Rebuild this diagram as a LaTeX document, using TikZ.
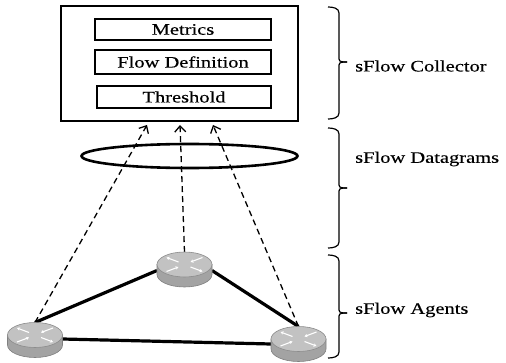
\documentclass[tikz,border=0pt]{standalone}
\usepackage{fontspec}
\setmainfont{Liberation Serif}
\newfontfamily\labfont[FakeBold=0.3]{Liberation Serif}
\newcommand\widetext[1]{\scalebox{1.28}[1]{#1}}
\usetikzlibrary{arrows.meta,shapes.geometric}
\tikzset{
  outerbox/.style={draw=black, line width=2.2pt},
  innerbox/.style={draw=black, line width=2.5pt, minimum width=176pt, inner sep=0pt, font=\labfont\fontsize{16}{18}\selectfont},
  dgram/.style={draw=black, line width=2.6pt},
  flowline/.style={dashed, dash pattern=on 6pt off 4pt, line width=1.3pt, -{Straight Barb[length=6pt,width=11pt,line width=1.3pt]}},
  linkline/.style={line width=3.2pt, black},
  bracepath/.style={line width=1.2pt, black},
  grouplabel/.style={anchor=west, inner sep=0pt, font=\labfont\fontsize{16}{18}\selectfont},
  rside/.style={fill=black!36, draw=black!50, line width=0.6pt},
  rtop/.style={fill=black!24, draw=black!45, line width=0.6pt},
  rarrow/.style={white, line width=1.1pt, -{Stealth[length=3pt,width=3.5pt]}},
}
\newcommand\myrouter[3]{%
  \begin{scope}[shift={(#2,#3)}]
    \path[rside] (-27.5,0) -- (-27.5,-10) arc[start angle=180,end angle=360,x radius=27.5pt,y radius=12.5pt] -- (27.5,0) -- cycle;
    \path[rtop] (0,0) ellipse [x radius=27.5pt, y radius=12.5pt];
    \draw[rarrow] (-6,2.5) -- (-18,7);
    \draw[rarrow] (6,-2.5) -- (18,-7);
    \draw[rarrow] (18,7) -- (6,2.5);
    \draw[rarrow] (-18,-7) -- (-6,-2.5);
  \end{scope}
  \coordinate (#1) at (#2,#3);
}
\begin{document}
\begin{tikzpicture}[x=1pt,y=1pt]
\useasboundingbox (0,0) rectangle (506,362);
% collector
\draw[outerbox] (61,356) rectangle (298,241);
\node[innerbox, minimum height=21pt] (metrics) at (183,332.5) {\widetext{Metrics}};
\node[innerbox, minimum height=24pt] (flowdef) at (183,300) {\widetext{Flow Definition}};
\node[innerbox, minimum height=22pt, minimum width=174pt] (thresh) at (184,265) {\widetext{Threshold}};
% datagrams
\node[dgram, ellipse, minimum width=216pt, minimum height=24pt, inner sep=0pt] (dg) at (189.5,206) {};
% arrow target points
\coordinate (tl) at (147,237);
\coordinate (tm) at (180,237);
\coordinate (tr) at (213,237);
% router anchor points
\coordinate (rl-n) at (35,39.5);
\coordinate (rl-e) at (62.5,23);
\coordinate (rm-n) at (184.5,110);
\coordinate (rm-w) at (157,91.5);
\coordinate (rm-e) at (212,91.5);
\coordinate (rr-n) at (298.5,35.5);
\coordinate (rr-w) at (271,18);
% links
\draw[linkline] (rl-n) -- (rm-w);
\draw[linkline] (rm-e) -- (rr-n);
\draw[linkline] (rl-e) -- (rr-w);
% flows
\draw[flowline] (rl-n) -- (tl);
\draw[flowline] (rm-n) -- (tm);
\draw[flowline] (rr-n) -- (tr);
% routers
\myrouter{rl}{35}{27}
\myrouter{rm}{184.5}{97.5}
\myrouter{rr}{298.5}{23}
% braces
\draw[bracepath] (328,355) to[out=0,in=90] (339,349) -- (339,303) to[out=-90,in=180] (347,300);
\draw[bracepath] (347,300) to[out=180,in=90] (339,297) -- (339,249) to[out=-90,in=0] (328,243);
\draw[bracepath] (328,234) to[out=0,in=90] (339,228) -- (339,177) to[out=-90,in=180] (347,174);
\draw[bracepath] (347,174) to[out=180,in=90] (339,171) -- (339,120) to[out=-90,in=0] (328,114);
\draw[bracepath] (328,107) to[out=0,in=90] (339,101) -- (339,52) to[out=-90,in=180] (347,49);
\draw[bracepath] (347,49) to[out=180,in=90] (339,46) -- (339,10) to[out=-90,in=0] (328,4);
\node[grouplabel] (lcol) at (355,296) {\widetext{sFlow Collector}};
\node[grouplabel] (ldg) at (355,203) {\widetext{sFlow Datagrams}};
\node[grouplabel] (lag) at (355,52) {\widetext{sFlow Agents}};
\end{tikzpicture}
\end{document}
